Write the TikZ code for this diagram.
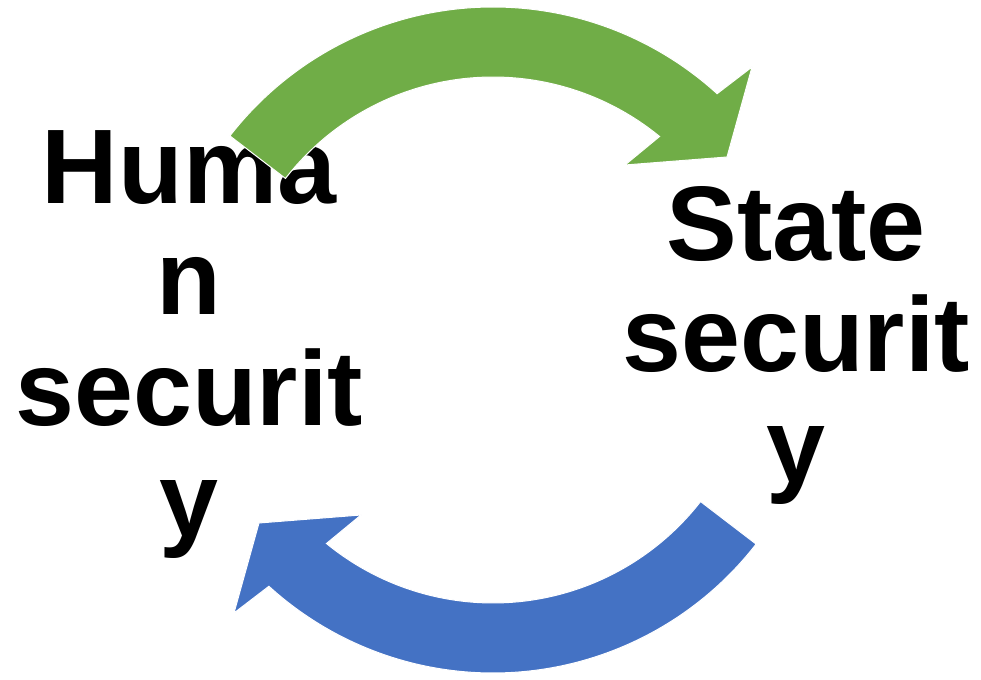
\documentclass[tikz,border=0pt]{standalone}
\usepackage{fontspec}
\setmainfont{Liberation Sans}
\definecolor{arrowgreen}{HTML}{70AD47}
\definecolor{arrowblue}{HTML}{4472C4}
\tikzset{
  label text/.style={font=\fontsize{106}{111}\selectfont\bfseries, align=center, inner sep=0pt, text=black},
  cyclearrow/.style={draw=white, line width=1pt, line join=miter},
}
\newcommand{\cyclearrowpath}{%
  (142.2:333) arc[start angle=142.2, end angle=47.7, radius=333pt]
  -- (259,273) -- (234,183) -- (132,175)
  -- (50.7:263) arc[start angle=50.7, end angle=142.1, radius=263pt] -- cycle}
\begin{document}
\begin{tikzpicture}[x=1pt,y=1pt]
  \useasboundingbox (0,0) rectangle (981,679);
  \fill[white] (0,0) rectangle (981,679);
  \coordinate (C) at (493,339);
  \node[label text] (human) at (189,334) {Huma\\n\\securit\\y};
  \node[label text] (state) at (796,334) {State\\securit\\y};
  \begin{scope}[shift={(C)}]
    \filldraw[cyclearrow, fill=arrowgreen] \cyclearrowpath;
  \end{scope}
  \begin{scope}[shift={(C)}, rotate=180]
    \filldraw[cyclearrow, fill=arrowblue] \cyclearrowpath;
  \end{scope}
\end{tikzpicture}
\end{document}
